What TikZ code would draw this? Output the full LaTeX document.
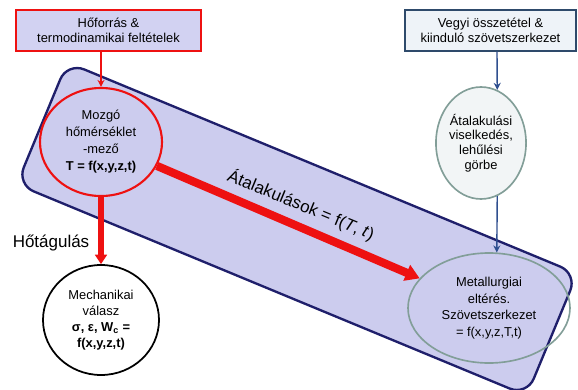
\documentclass[tikz,border=0pt]{standalone}
\usepackage{fontspec}
\setmainfont{Liberation Sans}
\usetikzlibrary{arrows.meta,shapes.geometric}
\definecolor{lavender}{HTML}{CCCCEE}
\definecolor{heatfill}{HTML}{D2D2F2}
\definecolor{navyline}{HTML}{1F1F6B}
\definecolor{heatred}{HTML}{EE1111}
\definecolor{chemline}{HTML}{2E4A6B}
\definecolor{chemfill}{HTML}{EEF3F8}
\definecolor{chemarrow}{HTML}{2F4F8F}
\definecolor{tealgray}{HTML}{829E98}
\definecolor{transfill}{HTML}{F2F5F6}
\tikzset{
  srcbox/.style={draw,rectangle,line width=1.2pt,align=center,minimum height=1.23cm,inner sep=2pt,font=\fontsize{11}{12.75}\selectfont},
  field/.style={draw,ellipse,align=center,inner sep=0pt},
  bigtext/.style={font=\fontsize{14.5}{17}\selectfont}
}
\begin{document}
\begin{tikzpicture}[x=0.03cm,y=-0.03cm]
\useasboundingbox (0,0) rectangle (578,390);
\node[draw=navyline,line width=2pt,fill=lavender,rounded corners=0.55cm,rotate=-22.5,minimum width=16.56cm,minimum height=3.96cm] (zone) at (297,229) {};
\node[srcbox,draw=heatred,fill=heatfill,minimum width=5.55cm] (heat) at (108.5,30.5) {Hőforrás \&\\termodinamikai feltételek};
\node[srcbox,draw=chemline,fill=chemfill,minimum width=5.13cm] (chem) at (490.5,30.5) {Vegyi összetétel \&\\kiinduló szövetszerkezet};
\node[field,draw=heatred,line width=1.8pt,minimum width=3.66cm,minimum height=3.24cm,font=\fontsize{11}{14.5}\selectfont] (temp) at (101,142) {Mozgó\\hőmérséklet\\-mező\\\textbf{T = f(x,y,z,t)}};
\node[field,draw=black,line width=1.5pt,fill=white,minimum width=3.48cm,minimum height=3.3cm,font=\fontsize{11}{13.6}\selectfont] (mech) at (101,320) {Mechanikai\\válasz\\\textbf{σ, ε, W\textsubscript{c} =}\\\textbf{f(x,y,z,t)}};
\node[field,draw=tealgray,line width=1.4pt,fill=transfill,minimum width=2.64cm,minimum height=3.36cm,font=\fontsize{11}{12.5}\selectfont] (trans) at (481,143) {Átalakulási\\viselkedés,\\lehűlési\\görbe};
\node[field,draw=tealgray,line width=1.4pt,minimum width=4.86cm,minimum height=3.3cm,font=\fontsize{11}{14.2}\selectfont] (metal) at (489,308) {Metallurgiai\\eltérés.\\Szövetszerkezet\\= f(x,y,z,T,t)};
\node[bigtext,rotate=-22.5] (trlabel) at (301,205) {Átalakulások = f(\textit{T}, \textit{t})};
\node[bigtext] (expand) at (51,243) {Hőtágulás};
\draw[heatred,line width=1.3pt,-{Stealth[length=6pt,width=6pt]}] ([xshift=-0.225cm]heat.south) -- (temp.north);
\draw[heatred,line width=4.5pt,-{Triangle[length=8pt,width=10pt]}] (temp) -- (mech);
\draw[heatred,line width=7pt,-{Triangle[length=12pt,width=14pt]}] (temp) -- (metal);
\draw[chemarrow,line width=1.2pt,-{Stealth[length=6pt,width=6pt]}] ([xshift=0.195cm]chem.south) -- (trans.73);
\draw[chemarrow,line width=1.2pt,-{Stealth[length=6pt,width=6pt]}] (trans.-73) -- (metal.82);
\end{tikzpicture}
\end{document}
